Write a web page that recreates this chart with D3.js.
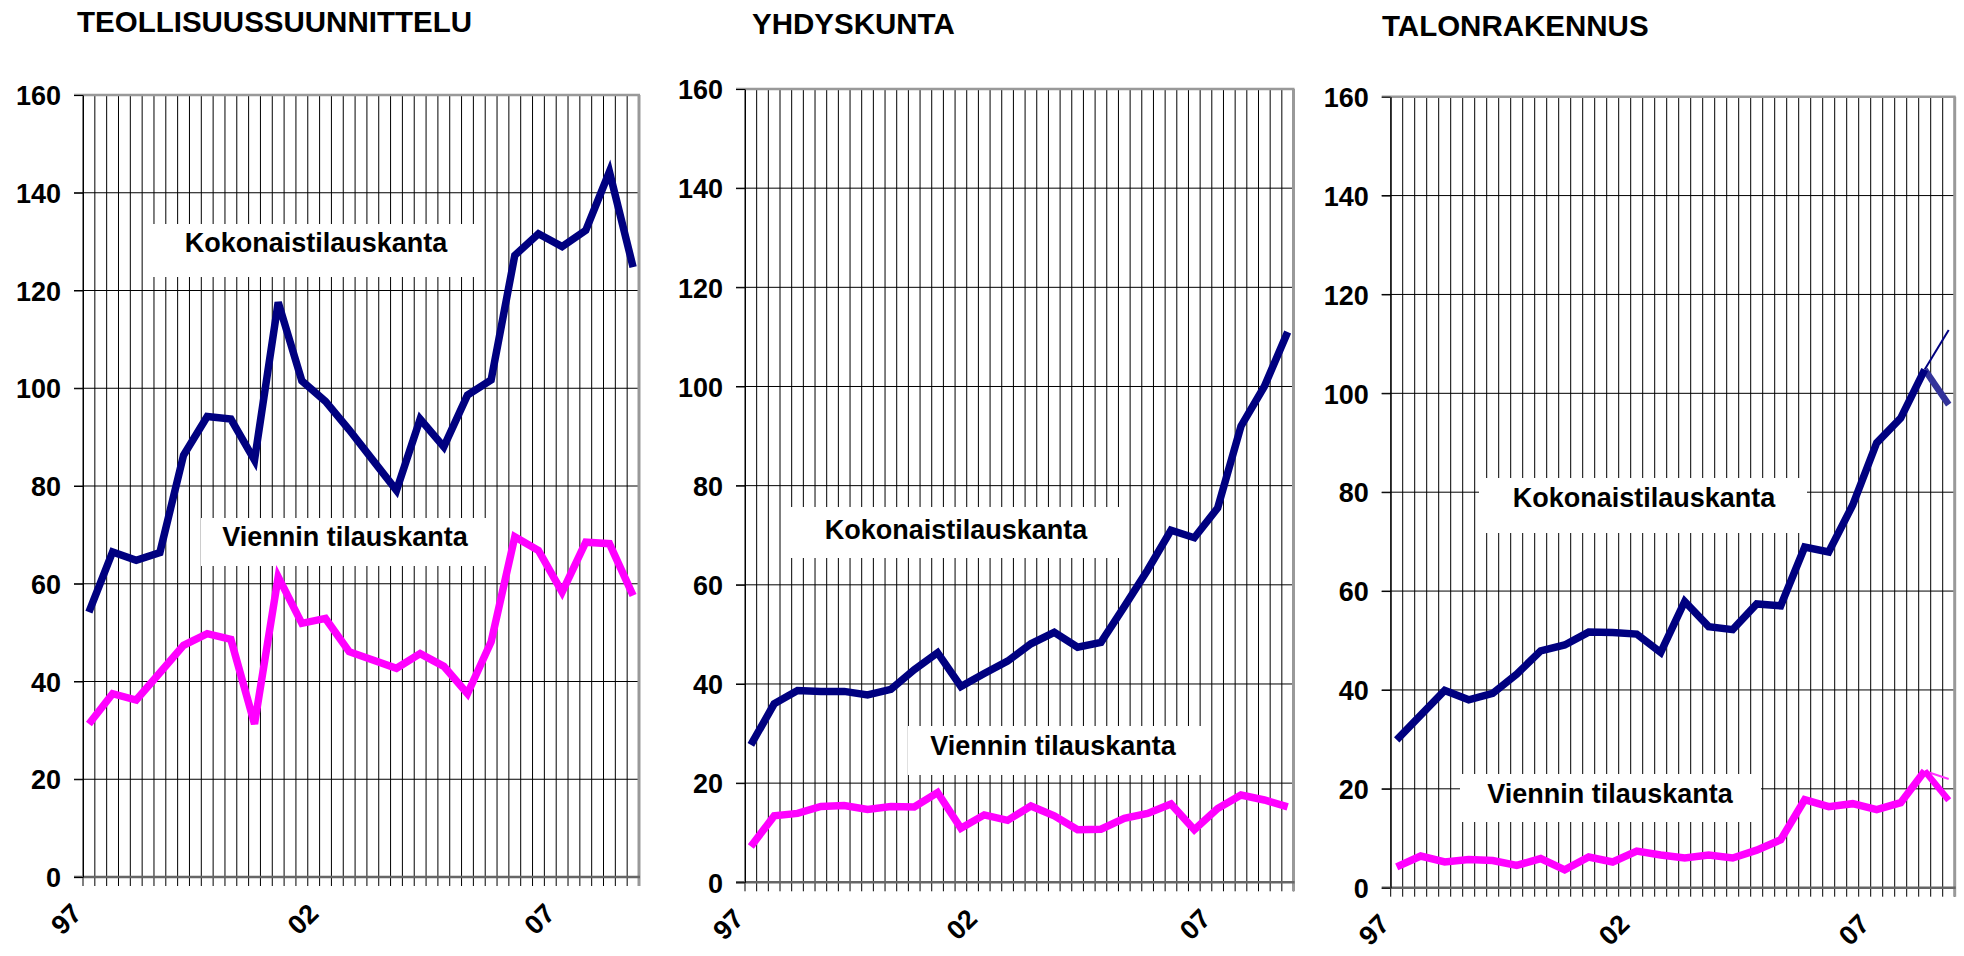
<!DOCTYPE html>
<html>
<head>
<meta charset="utf-8">
<script src="https://cdn.jsdelivr.net/npm/d3@7"></script>
<style>
  body { margin: 0; background: #fff; }
  svg { display: block; }
  text { font-family: "Liberation Sans", Arial, sans-serif; font-weight: bold; fill: #000; }
</style>
</head>
<body>
<svg id="chart" width="1964" height="956"></svg>
<script>
// half-year observations 1997-2008, drawn on a quarterly category grid
var quarterCount = 47;
var xTickQuarters = [0, 20, 40];
var xTickLabels = ["97", "02", "07"];
var yTicks = [0, 20, 40, 60, 80, 100, 120, 140, 160];

var titles = ["TEOLLISUUSSUUNNITTELU", "YHDYSKUNTA", "TALONRAKENNUS"];
var kokoLabel = "Kokonaistilauskanta";
var vientiLabel = "Viennin tilauskanta";

var teolKoko = [54.2, 66.5, 64.8, 66.4, 86.3, 94.2, 93.7, 85.3, 117.6, 101.5, 97.3, 91.5,
                85.3, 79.1, 93.7, 88.0, 98.6, 101.7, 127.2, 131.6, 129.0, 132.3, 144.3, 124.8];
var teolVienti = [31.3, 37.5, 36.2, 41.8, 47.4, 49.8, 48.6, 31.3, 61.4, 51.9, 52.9, 46.1,
                  44.4, 42.7, 45.7, 43.1, 37.5, 48.1, 69.6, 66.8, 58.3, 68.5, 68.2, 57.6];

var yhdKoko = [27.7, 36.0, 38.7, 38.5, 38.5, 37.8, 38.9, 42.9, 46.3, 39.5, 42.1, 44.6,
               48.1, 50.4, 47.4, 48.4, 55.6, 63.0, 71.0, 69.5, 75.5, 92.0, 100.0, 111.0];
var yhdVienti = [7.2, 13.4, 13.9, 15.3, 15.5, 14.7, 15.3, 15.2, 18.1, 10.9, 13.6, 12.5,
                 15.4, 13.4, 10.6, 10.7, 12.9, 13.9, 15.8, 10.6, 14.9, 17.6, 16.6, 15.2];

var taloKoko = [29.9, 34.9, 39.9, 38.0, 39.3, 43.2, 47.9, 49.1, 51.7, 51.6, 51.3, 47.6,
                57.9, 52.8, 52.2, 57.4, 57.0, 68.9, 67.9, 77.4, 90.0, 95.0, 104.8, 97.7];
var taloVienti = [4.2, 6.4, 5.2, 5.7, 5.5, 4.5, 5.9, 3.6, 6.2, 5.2, 7.4, 6.6,
                  6.0, 6.6, 6.0, 7.6, 9.7, 17.8, 16.4, 17.0, 15.8, 17.2, 23.6, 17.7];
// alternative last values drawn as thin lines in the last panel
var taloKokoAlt = 112.8;
var taloVientiAlt = 22.0;

var navy = "#000080", magenta = "#ff00ff";

var panels = [
  { title: titles[0], koko: teolKoko, vienti: teolVienti,
    left: 83, right: 639, top: 95, zero: 877, titleX: 77, titleY: 32,
    kokoBox: [152, 224, 326, 53], kokoText: [316, 252],
    vientiBox: [201, 518, 287, 48], vientiText: [345, 546] },
  { title: titles[1], koko: yhdKoko, vienti: yhdVienti,
    left: 745, right: 1293.5, top: 89, zero: 882.3, titleX: 752, titleY: 34,
    kokoBox: [787, 507, 337, 51], kokoText: [956, 539],
    vientiBox: [908, 726, 293, 49], vientiText: [1053, 755] },
  { title: titles[2], koko: taloKoko, vienti: taloVienti,
    kokoAlt: taloKokoAlt, vientiAlt: taloVientiAlt,
    left: 1390.7, right: 1954.7, top: 96.7, zero: 887.7, titleX: 1382, titleY: 36,
    kokoBox: [1479, 478, 328, 55], kokoText: [1644, 507],
    vientiBox: [1460, 774, 301, 48], vientiText: [1610, 803] }
];

var svg = d3.select("#chart");
svg.append("rect").attr("width", 1964).attr("height", 956).attr("fill", "#fff");

function drawPanel(p) {
  var x = d3.scaleLinear().domain([0, quarterCount]).range([p.left, p.right]);
  var y = d3.scaleLinear().domain([0, 160]).range([p.zero, p.top]);
  var g = svg.append("g");

  g.append("text")
    .attr("x", p.titleX).attr("y", p.titleY)
    .style("font-size", "29.5px")
    .text(p.title);

  // quarterly vertical gridlines, running down as tick marks
  g.append("g").selectAll("line")
    .data(d3.range(0, quarterCount + 1))
    .enter().append("line")
    .attr("x1", function(d) { return x(d); })
    .attr("x2", function(d) { return x(d); })
    .attr("y1", p.top)
    .attr("y2", p.zero + 9)
    .attr("stroke", "#000")
    .attr("stroke-width", 1);

  // horizontal gridlines
  g.append("g").selectAll("line")
    .data(yTicks.slice(1, -1))
    .enter().append("line")
    .attr("x1", p.left - 9)
    .attr("x2", p.right)
    .attr("y1", function(d) { return y(d); })
    .attr("y2", function(d) { return y(d); })
    .attr("stroke", "#000")
    .attr("stroke-width", 1);

  // frame
  g.append("line").attr("x1", p.left - 9).attr("x2", p.right + 1)
    .attr("y1", y(160)).attr("y2", y(160))
    .attr("stroke", "#999").attr("stroke-width", 2.5);
  g.append("line").attr("x1", x(quarterCount)).attr("x2", x(quarterCount))
    .attr("y1", y(160)).attr("y2", p.zero + 9)
    .attr("stroke", "#999").attr("stroke-width", 3);
  g.append("line").attr("x1", p.left - 9).attr("x2", p.right + 1)
    .attr("y1", y(0)).attr("y2", y(0))
    .attr("stroke", "#666").attr("stroke-width", 2.5);

  // y axis
  g.append("g")
    .attr("transform", "translate(" + p.left + ",0)")
    .call(d3.axisLeft(y).tickValues(yTicks).tickSizeInner(9).tickSizeOuter(0).tickPadding(13))
    .call(function(s) {
      s.select(".domain").attr("stroke", "#000");
      s.selectAll(".tick line").attr("stroke", "#000");
      s.selectAll(".tick text")
        .attr("fill", "#000")
        .attr("dy", "0.36em")
        .style("font-size", "27px")
        .style("font-family", "'Liberation Sans', Arial, sans-serif")
        .style("font-weight", "bold");
    });

  // x axis year labels
  g.append("g")
    .attr("transform", "translate(0," + p.zero + ")")
    .call(d3.axisBottom(x).tickValues(xTickQuarters).tickSize(0)
      .tickFormat(function(d, i) { return xTickLabels[i]; }))
    .call(function(s) {
      s.select(".domain").remove();
      s.selectAll(".tick text")
        .attr("fill", "#000")
        .attr("x", 0).attr("y", 0).attr("dy", 0)
        .attr("transform", "translate(0,38) rotate(-45)")
        .style("text-anchor", "end")
        .style("font-size", "27px")
        .style("font-family", "'Liberation Sans', Arial, sans-serif")
        .style("font-weight", "bold");
    });

  // series labels on white boxes
  [[p.kokoBox, p.kokoText, kokoLabel], [p.vientiBox, p.vientiText, vientiLabel]].forEach(function(l) {
    g.append("rect")
      .attr("x", l[0][0]).attr("y", l[0][1])
      .attr("width", l[0][2]).attr("height", l[0][3])
      .attr("fill", "#fff");
    g.append("text")
      .attr("x", l[1][0]).attr("y", l[1][1])
      .style("text-anchor", "middle")
      .style("font-size", "27px")
      .text(l[2]);
  });

  var qOf = function(i) { return 2 * i + 0.5; };
  var line = d3.line()
    .x(function(d) { return x(qOf(d.i)); })
    .y(function(d) { return y(d.v); });
  var toPts = function(arr) { return arr.map(function(v, i) { return {i: i, v: v}; }); };

  [[p.vienti, magenta, p.vientiAlt, "#ff33ff", magenta],
   [p.koko, navy, p.kokoAlt, navy, "#33339a"]].forEach(function(s) {
    var pts = toPts(s[0]);
    var last = pts.length - 1;
    if (s[2] !== undefined) {
      // thin alternative ending
      g.append("path")
        .datum([pts[last - 1], {i: last, v: s[2]}])
        .attr("d", line).attr("fill", "none")
        .attr("stroke", s[3]).attr("stroke-width", 2);
      g.append("path")
        .datum(pts.slice(last - 1))
        .attr("d", line).attr("fill", "none")
        .attr("stroke", s[4]).attr("stroke-width", 6.5);
      pts = pts.slice(0, last);
    }
    g.append("path")
      .datum(pts)
      .attr("d", line)
      .attr("fill", "none")
      .attr("stroke", s[1])
      .attr("stroke-width", 7.5)
      .attr("stroke-linejoin", "miter");
  });
}

panels.forEach(drawPanel);
</script>
</body>
</html>
